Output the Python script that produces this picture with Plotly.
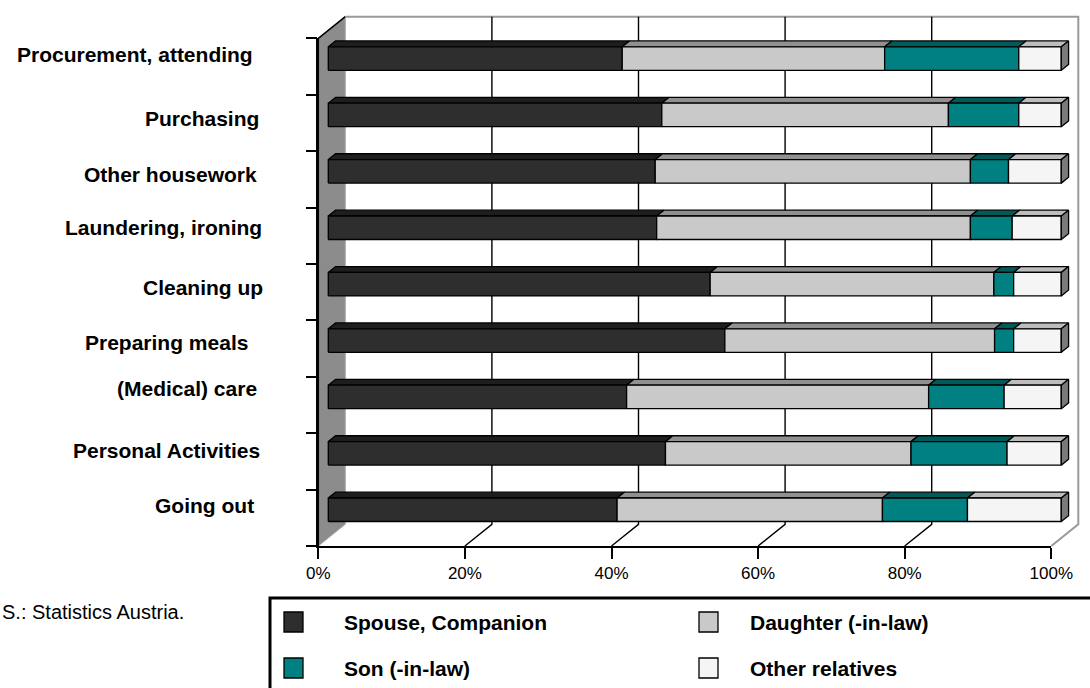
import plotly.graph_objects as go

# ---------------- data ----------------
categories = [
    "Procurement, attending",
    "Purchasing",
    "Other housework",
    "Laundering, ironing",
    "Cleaning up",
    "Preparing meals",
    "(Medical) care",
    "Personal Activities",
    "Going out",
]
series_names = ["Spouse, Companion", "Daughter (-in-law)", "Son (-in-law)", "Other relatives"]

spouse = [40.1, 45.5, 44.6, 44.8, 52.1, 54.1, 40.7, 46.0, 39.4]
daughter = [35.8, 39.1, 43.0, 42.8, 38.7, 36.8, 41.2, 33.5, 36.2]
son = [18.3, 9.6, 5.2, 5.7, 2.7, 2.6, 10.3, 13.1, 11.6]
other = [5.8, 5.8, 7.2, 6.7, 6.5, 6.5, 7.8, 7.4, 12.8]

tick_values = [0, 20, 40, 60, 80, 100]
tick_text = ["0%", "20%", "40%", "60%", "80%", "100%"]
source_note = "S.: Statistics Austria."

# ---------------- styles / geometry ----------------
FONT = "Liberation Sans, Arial, sans-serif"
FRONT = ["#2e2e2e", "#c9c9c9", "#008080", "#f5f5f5"]
TOP = ["#1e1e1e", "#909090", "#005a5a", "#bdbdbd"]
CAP = "#7a7a7a"
WALL = "#8c8c8c"
EDGE = "black"

W, H = 1090, 688
X0_PX, X100_PX = 318.3, 1051.3      # front plane: 0 % and 100 %
BASE_PX, TOP_PX = 546.0, 38.4       # front plane: floor and top of category axis
DEPTH_PX = (27.0, 21.7)             # oblique offset of the back wall

n_rows = len(categories)
ppx = (X100_PX - X0_PX) / 100.0     # pixels per percent
ppy = (BASE_PX - TOP_PX) / n_rows   # pixels per category row
DX = DEPTH_PX[0] / ppx
DY = DEPTH_PX[1] / ppy

BAR_HALF = 11.75 / ppy              # half thickness of a bar (row units)
BAR_FRONT, BAR_BACK = 0.37, 0.64    # depth slice occupied by the bars


def proj(v, c, d):
    """Oblique projection: value v, row coordinate c, depth d (0 front .. 1 back)."""
    return v + d * DX, c + d * DY


def path(points):
    pts = [proj(*p) for p in points]
    return "M " + " L ".join(f"{x:.4f},{y:.4f}" for x, y in pts)


def px_x(px):
    return px / W


def px_y(py):
    return 1 - py / H


# ---------------- bars ----------------
series = [spouse, daughter, son, other]
fig = go.Figure()

faces_front = [[[], []] for _ in series]
faces_top = [[[], []] for _ in series]
caps = [[], []]

for i, cat in enumerate(categories):
    c = n_rows - i - 0.5
    lo, hi = c - BAR_HALF, c + BAR_HALF
    start = 0.0
    for s, vals in enumerate(series):
        end = start + vals[i]
        front = [(start, lo, BAR_FRONT), (end, lo, BAR_FRONT), (end, hi, BAR_FRONT), (start, hi, BAR_FRONT)]
        top = [(start, hi, BAR_FRONT), (end, hi, BAR_FRONT), (end, hi, BAR_BACK), (start, hi, BAR_BACK)]
        for poly, store in ((front, faces_front[s]), (top, faces_top[s])):
            for p in poly + [poly[0]]:
                x, y = proj(*p)
                store[0].append(x)
                store[1].append(y)
            store[0].append(None)
            store[1].append(None)
        start = end
    cap = [(start, lo, BAR_FRONT), (start, hi, BAR_FRONT), (start, hi, BAR_BACK), (start, lo, BAR_BACK)]
    for p in cap + [cap[0]]:
        x, y = proj(*p)
        caps[0].append(x)
        caps[1].append(y)
    caps[0].append(None)
    caps[1].append(None)

for s, name in enumerate(series_names):
    fig.add_trace(go.Scatter(
        x=faces_top[s][0], y=faces_top[s][1], mode="lines", fill="toself",
        fillcolor=TOP[s], line=dict(color=EDGE, width=1.3), name=name,
        showlegend=False, hoverinfo="skip"))
for s, name in enumerate(series_names):
    fig.add_trace(go.Scatter(
        x=faces_front[s][0], y=faces_front[s][1], mode="lines", fill="toself",
        fillcolor=FRONT[s], line=dict(color=EDGE, width=1.3), name=name,
        showlegend=False, hoverinfo="skip"))
fig.add_trace(go.Scatter(
    x=caps[0], y=caps[1], mode="lines", fill="toself", fillcolor=CAP,
    line=dict(color=EDGE, width=1.3), showlegend=False, hoverinfo="skip"))

# empty trace that carries the front-plane axes
fig.add_trace(go.Scatter(x=[None], y=[None], xaxis="x2", yaxis="y2",
                         showlegend=False, hoverinfo="skip"))

# ---------------- walls and gridlines ----------------
shapes = []
# left wall
shapes.append(dict(type="path", xref="x", yref="y", layer="below",
                   path=path([(0, 0, 0), (0, n_rows, 0), (0, n_rows, 1), (0, 0, 1)]) + " Z",
                   fillcolor=WALL, line=dict(color="#a8a8a8", width=1)))
shapes.append(dict(type="path", xref="x", yref="y", layer="below",
                   path=path([(0, 0, 0), (0, n_rows, 0), (0, n_rows, 1)]),
                   line=dict(color=EDGE, width=1.5)))
# back wall outline (top, right) and floor edge
shapes.append(dict(type="path", xref="x", yref="y", layer="below",
                   path=path([(0, n_rows, 1), (100, n_rows, 1), (100, 0, 1), (100, 0, 0)]),
                   line=dict(color="#999999", width=2)))
# gridlines on back wall and floor
for v in tick_values[1:-1]:
    shapes.append(dict(type="path", xref="x", yref="y", layer="below",
                       path=path([(v, n_rows, 1), (v, 0, 1), (v, 0, 0)]),
                       line=dict(color=EDGE, width=1.4)))

# ---------------- legend box ----------------
shapes.append(dict(type="rect", xref="paper", yref="paper",
                   x0=px_x(270), x1=px_x(1100), y0=px_y(598), y1=px_y(700),
                   line=dict(color=EDGE, width=3), fillcolor="rgba(0,0,0,0)"))

annotations = []
legend_cols = [284, 699]
legend_text_x = [342, 748]
legend_rows = [622, 668]
for s, name in enumerate(series_names):
    col, row = s % 2, s // 2
    mx, my = legend_cols[col], legend_rows[row]
    shapes.append(dict(type="rect", xref="paper", yref="paper",
                       x0=px_x(mx), x1=px_x(mx + 19), y0=px_y(my - 10), y1=px_y(my + 10),
                       fillcolor=FRONT[s], line=dict(color=EDGE, width=1.3)))
    annotations.append(dict(xref="paper", yref="paper", x=px_x(legend_text_x[col]), y=px_y(my),
                            xanchor="left", yanchor="middle", showarrow=False, text=name,
                            font=dict(family=FONT, size=21, color="black", weight="bold")))

# ---------------- category labels ----------------
label_right_px = [255, 261, 259, 264, 265, 250, 259, 262, 256]
label_mid_px = [54, 119, 174.5, 227.5, 287, 342.5, 388, 450.5, 505.5]
for cat, rx, my in zip(categories, label_right_px, label_mid_px):
    annotations.append(dict(xref="paper", yref="paper", x=px_x(rx), y=px_y(my),
                            xanchor="right", yanchor="middle", showarrow=False, text=cat,
                            font=dict(family=FONT, size=21, color="black", weight="bold")))

annotations.append(dict(xref="paper", yref="paper", x=px_x(0), y=px_y(612),
                        xanchor="left", yanchor="middle", showarrow=False, text=source_note,
                        font=dict(family=FONT, size=20, color="black")))

# ---------------- layout ----------------
fig.update_layout(
    width=W, height=H, autosize=False,
    margin=dict(l=0, r=0, t=0, b=0, pad=0, autoexpand=False),
    paper_bgcolor="white", plot_bgcolor="rgba(0,0,0,0)",
    showlegend=False,
    shapes=shapes, annotations=annotations,
    xaxis=dict(domain=[0, 1], range=[-X0_PX / ppx, (W - X0_PX) / ppx],
               visible=False, fixedrange=True, automargin=False),
    yaxis=dict(domain=[0, 1], range=[-(H - BASE_PX) / ppy, BASE_PX / ppy],
               visible=False, fixedrange=True, automargin=False),
    xaxis2=dict(domain=[X0_PX / W, X100_PX / W], range=[0, 100], anchor="y2",
                tickvals=tick_values, ticktext=tick_text, ticks="outside",
                ticklen=11, tickwidth=1.5, tickcolor=EDGE, showline=True,
                linecolor=EDGE, linewidth=1.5, showgrid=False, zeroline=False,
                tickfont=dict(family=FONT, size=17, color="black"), fixedrange=True,
                automargin=False),
    yaxis2=dict(domain=[(H - BASE_PX) / H, (H - TOP_PX) / H], range=[0, n_rows],
                anchor="x2", tickvals=list(range(n_rows + 1)), showticklabels=False,
                ticks="outside", ticklen=11, tickwidth=1.5, tickcolor=EDGE,
                showline=True, linecolor=EDGE, linewidth=1.5, showgrid=False,
                zeroline=False, fixedrange=True, automargin=False),
)

fig.write_html("out.html")
